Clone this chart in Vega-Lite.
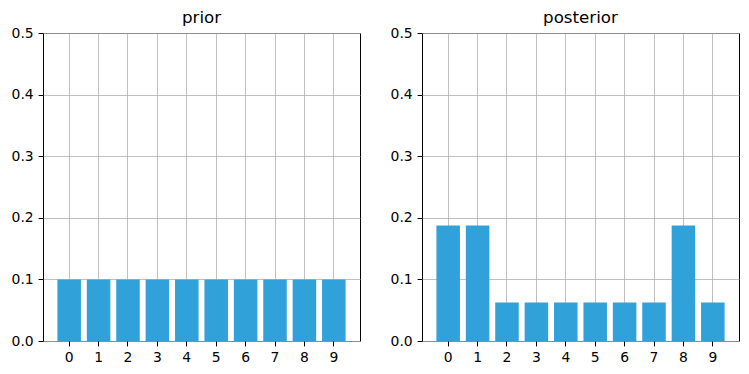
{
  "$schema": "https://vega.github.io/schema/vega-lite/v6.json",
  "padding": {"left": 10, "top": 9, "right": 10, "bottom": 10},
  "background": "white",
  "bounds": "flush",
  "spacing": 62,
  "datasets": {
    "prior": [
      {"k": "0", "p": 0.1}, {"k": "1", "p": 0.1}, {"k": "2", "p": 0.1}, {"k": "3", "p": 0.1}, {"k": "4", "p": 0.1},
      {"k": "5", "p": 0.1}, {"k": "6", "p": 0.1}, {"k": "7", "p": 0.1}, {"k": "8", "p": 0.1}, {"k": "9", "p": 0.1}
    ],
    "posterior": [
      {"k": "0", "p": 0.1875}, {"k": "1", "p": 0.1875}, {"k": "2", "p": 0.0625}, {"k": "3", "p": 0.0625}, {"k": "4", "p": 0.0625},
      {"k": "5", "p": 0.0625}, {"k": "6", "p": 0.0625}, {"k": "7", "p": 0.0625}, {"k": "8", "p": 0.1875}, {"k": "9", "p": 0.0625}
    ]
  },
  "config": {
    "font": "DejaVu Sans",
    "view": {"stroke": "black", "strokeWidth": 1},
    "title": {"fontSize": 16.7, "fontWeight": "normal", "color": "black", "offset": -1},
    "axis": {
      "labelFont": "DejaVu Sans",
      "labelFontSize": 13.9,
      "labelColor": "black",
      "tickColor": "black",
      "tickSize": 4.9,
      "labelPadding": 4.9,
      "domain": false,
      "grid": true,
      "gridColor": "#b0b0b0",
      "gridWidth": 0.8,
      "title": null
    }
  },
  "hconcat": [
    {
      "title": "prior",
      "width": 317,
      "height": 308,
      "data": {"name": "prior"},
      "mark": {"type": "bar", "color": "#30a2d9"},
      "encoding": {
        "x": {"field": "k", "type": "ordinal", "scale": {"paddingInner": 0.2, "paddingOuter": 0.49}, "axis": {"labelAngle": 0, "bandPosition": 0.5}},
        "y": {"field": "p", "type": "quantitative", "scale": {"domain": [0, 0.5], "nice": false}, "axis": {"values": [0, 0.1, 0.2, 0.3, 0.4, 0.5], "format": ".1f"}}
      }
    },
    {
      "title": "posterior",
      "width": 317,
      "height": 308,
      "data": {"name": "posterior"},
      "mark": {"type": "bar", "color": "#30a2d9"},
      "encoding": {
        "x": {"field": "k", "type": "ordinal", "scale": {"paddingInner": 0.2, "paddingOuter": 0.49}, "axis": {"labelAngle": 0, "bandPosition": 0.5}},
        "y": {"field": "p", "type": "quantitative", "scale": {"domain": [0, 0.5], "nice": false}, "axis": {"values": [0, 0.1, 0.2, 0.3, 0.4, 0.5], "format": ".1f"}}
      }
    }
  ]
}
